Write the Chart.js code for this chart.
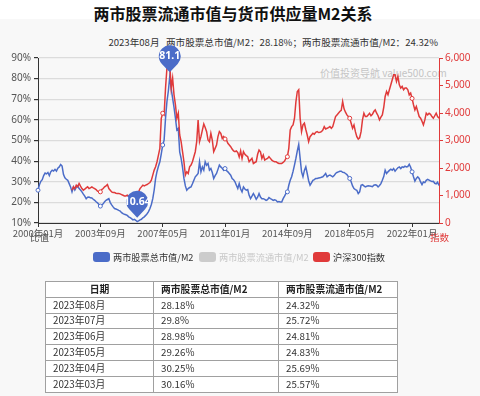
<!DOCTYPE html>
<html>
<head>
<meta charset="utf-8">
<script src="https://cdn.jsdelivr.net/npm/chart.js@4"></script>
<style>
  html, body { margin: 0; padding: 0; }
  body {
    width: 480px; height: 396px; position: relative; overflow: hidden;
    background: #ffffff;
    font-family: "Noto Sans CJK SC", "Noto Sans", sans-serif;
  }
  #panel { position: absolute; left: 0; top: 19px; width: 480px; height: 377px; background: #f8f8f8; }
  #title { position: absolute; left: 0; top: 1px; width: 466px; text-align: center; font-size: 16px; font-weight: bold; color: #111; }
  #subtitle { position: absolute; right: 42px; top: 35px; font-size: 9.6px; color: #333; white-space: pre; }
  #watermark { position: absolute; left: 320px; top: 65px; font-size: 10px; color: #c4c4c4; }
  canvas { position: absolute; left: 0; top: 0; }
  .axname { position: absolute; font-size: 9.5px; }
  .legend { position: absolute; top: 250px; font-size: 9.2px; color: #333; display: flex; align-items: center; white-space: nowrap; }
  .legend i { display: inline-block; width: 17px; height: 10px; border-radius: 3px; margin-right: 3px; }
  table { position: absolute; left: 45px; top: 281px; width: 353px; border-collapse: collapse; background: #fff; font-size: 9.8px; color: #333; }
  tr { height: 15.8px; }
  td, th { border: 1px solid #a0a0a0; padding: 0 7px; text-align: left; line-height: 13px; }
  th { font-weight: bold; color: #222; }
  th:first-child { text-align: center; }
</style>
</head>
<body>
<div id="panel"></div>
<div id="title">两市股票流通市值与货币供应量M2关系</div>
<div id="subtitle"></div>
<div id="watermark">价值投资导航 value500.com</div>
<canvas id="chart" width="480" height="396"></canvas>
<div class="axname" style="left:30px;top:230px;color:#555;">比值</div>
<div class="axname" style="left:430px;top:230px;color:#e03a3a;">指数</div>
<div class="legend" style="left:93px;"><i style="background:#4b6cc8"></i>两市股票总市值/M2</div>
<div class="legend" style="left:199px;color:#c8c8c8;"><i style="background:#cccccc"></i>两市股票流通市值/M2</div>
<div class="legend" style="left:313px;"><i style="background:#e03a3a"></i>沪深300指数</div>
<table id="tbl"></table>
<script>
// Monthly total market cap / M2 (%), 2000-01 .. 2023-08
const totalRatio = [
  25.9, 28.5, 30.2, 31.0, 33.0, 34.2, 33.8, 34.5, 33.0, 34.8, 35.6, 35.2,
  36.0, 35.2, 36.6, 37.2, 38.4, 37.6, 33.5, 31.9, 31.2, 30.7, 29.1, 27.5,
  25.1, 27.5, 26.0, 27.3, 28.0, 26.7, 26.0, 25.1, 24.0, 23.0, 21.8, 22.5,
  22.6, 22.2, 22.1, 21.5, 21.0, 20.3, 19.8, 19.0, 18.2, 18.8, 19.3, 20.3,
  21.0, 21.4, 21.8, 19.9, 18.8, 17.8, 17.0, 16.8, 16.5, 16.1, 15.8, 15.0,
  14.5, 14.2, 14.0, 13.7, 13.0, 12.6, 12.1, 11.5, 11.8, 11.3, 10.64, 11.0,
  11.5, 11.8, 12.5, 13.0, 13.7, 14.5, 15.5, 17.0, 19.0, 21.8, 26.0, 31.6,
  35.0, 37.5, 39.7, 43.5, 47.8, 50.2, 60.8, 68.9, 74.0, 81.1, 75.0, 70.5,
  66.0, 60.8, 55.1, 55.9, 44.5, 41.3, 37.0, 31.6, 28.0, 25.9, 26.7, 27.2,
  27.5, 29.0, 30.7, 32.4, 33.2, 34.0, 39.7, 34.8, 37.2, 35.6, 39.7, 38.0,
  38.9, 35.6, 36.4, 34.5, 31.6, 33.0, 34.0, 36.0, 38.1, 37.2, 36.5, 35.6,
  36.4, 35.5, 34.8, 34.0, 33.2, 31.6, 31.0, 30.0, 28.3, 26.7, 29.1, 26.5,
  25.1, 27.5, 26.5, 25.9, 26.2, 23.4, 21.8, 23.0, 24.3, 23.0, 21.5, 22.5,
  24.3, 22.6, 21.8, 21.8, 21.5, 21.0, 21.3, 22.3, 21.8, 21.5, 21.0, 21.2,
  21.0, 20.2, 20.4, 20.2, 20.2, 21.8, 23.0, 24.3, 25.1, 28.3, 30.7, 32.4,
  35.0, 38.1, 41.3, 45.0, 48.1, 41.3, 34.8, 32.4, 35.5, 37.2, 34.0, 30.5,
  28.3, 29.5, 30.7, 31.0, 31.6, 31.6, 31.8, 31.9, 32.2, 32.4, 33.2, 34.0,
  32.4, 33.0, 33.2, 32.8, 32.4, 33.0, 34.0, 34.5, 34.8, 35.1, 35.1, 34.6,
  34.5, 34.0, 33.5, 32.5, 31.6, 30.0, 28.0, 26.7, 26.2, 25.9, 24.3, 25.1,
  28.3, 28.6, 28.0, 27.5, 27.8, 28.0, 27.9, 27.8, 27.6, 28.3, 28.5, 28.3,
  27.5, 28.2, 29.1, 30.7, 32.5, 35.6, 34.0, 34.8, 35.5, 36.1, 35.6, 36.4,
  35.1, 36.0, 36.8, 37.2, 36.4, 37.2, 37.0, 37.6, 37.2, 37.4, 38.5, 37.0,
  34.8, 32.4, 30.3, 31.6, 32.4, 31.6, 29.9, 28.6, 29.9, 29.6, 30.7, 31.2,
  30.8, 30.4, 30.16, 30.25, 29.26, 28.98, 29.8, 28.18
];

// Monthly CSI 300 index, starts 2002-01
const hs300 = [
  null, null, null, null, null, null, null, null, null, null, null, null,
  null, null, null, null, null, null, null, null, null, null, null, null,
  1193, 1314, 1253, 1375, 1314, 1436, 1339, 1253, 1193, 1229, 1278, 1314,
  1253, 1278, 1314, 1278, 1253, 1217, 1156, 1132, 1132, 1217, 1253, 1314,
  1351, 1400, 1253, 1193, 1132, 1107, 1107, 1083, 1071, 1071, 1059, 1034,
  1010, 986, 986, 1010, 974, 937, 925, 949, 974, 986, 1034, 1132,
  1253, 1314, 1375, 1351, 1375, 1400, 1436, 1473, 1558, 1740, 1923, 2045,
  2227, 2470, 2714, 3809, 3992, 3931, 4905, 5635, 5696, 5757, 4905, 5270,
  4661, 4296, 3809, 3992, 3201, 2957, 2592, 2227, 1740, 1862, 1801, 2045,
  2105, 2227, 2410, 2592, 2957, 3748, 2957, 3140, 3380, 3600, 3470, 3320,
  3018, 2957, 3262, 3018, 2592, 2714, 2836, 3140, 3322, 3262, 3079, 3140,
  3055, 3018, 2897, 2836, 2775, 2690, 2617, 2592, 2620, 2560, 2400, 2620,
  2349, 2592, 2500, 2450, 2410, 2227, 2290, 2349, 2166, 2200, 2227, 2500,
  2653, 2592, 2349, 2470, 2288, 2320, 2349, 2410, 2350, 2288, 2250, 2227,
  2227, 2190, 2166, 2166, 2166, 2200, 2250, 2349, 2410, 2714, 3383, 3505,
  3566, 3800, 4400, 4783, 4844, 3809, 3322, 3566, 3627, 3400, 3201, 2957,
  3140, 3200, 3262, 3230, 3300, 3322, 3290, 3300, 3322, 3380, 3505, 3420,
  3444, 3470, 3505, 3444, 3505, 3688, 3870, 3931, 3992, 4053, 4100, 4418,
  4150, 4030, 3930, 3870, 3809, 3627, 3444, 3566, 3322, 3140, 3055, 3100,
  3322, 3748, 3992, 3870, 3870, 3930, 3992, 3900, 3950, 4053, 4113, 3992,
  3900, 3748, 3850, 3931, 4200, 4600, 4783, 4661, 4844, 5026, 5209, 5391,
  5391, 5148, 5330, 5026, 4905, 4965, 4844, 4905, 4905, 4844, 4661, 4722,
  4530, 4300, 4113, 4235, 4053, 3870, 3809, 3700, 3566, 3748, 3992, 3931,
  3992, 3950, 3870, 3809, 3900, 3992, 3870, 3809
];

// Table rows
const tableDates = ["2023年08月", "2023年07月", "2023年06月", "2023年05月", "2023年04月", "2023年03月"];
const tableTotal = ["28.18%", "29.8%", "28.98%", "29.26%", "30.25%", "30.16%"];
const tableFloat = ["24.32%", "25.72%", "24.81%", "24.83%", "25.69%", "25.57%"];

const BLUE = "#4b6cc8";
const RED = "#e03a3a";
const TICK_EVERY = 44;

// month labels 2000年01月 .. 2023年08月
const labels = [];
for (let y = 2000; y <= 2023; y++) {
  for (let m = 1; m <= 12; m++) {
    if (y === 2023 && m > 8) break;
    labels.push(y + "年" + String(m).padStart(2, "0") + "月");
  }
}

document.getElementById("subtitle").textContent =
  tableDates[0] + "   两市股票总市值/M2：" + tableTotal[0] + "；两市股票流通市值/M2：" + tableFloat[0];

// table
const tbl = document.getElementById("tbl");
tbl.innerHTML = "<tr><th style='width:93px'>日期</th><th style='width:110px'>两市股票总市值/M2</th><th>两市股票流通市值/M2</th></tr>" +
  tableDates.map((d, i) => `<tr><td>${d}</td><td>${tableTotal[i]}</td><td>${tableFloat[i]}</td></tr>`).join("");

// pin markers at max / min of the ratio series
const pinPlugin = {
  id: "pins",
  afterDatasetsDraw(chart) {
    const ctx = chart.ctx;
    const xs = chart.scales.x, ys = chart.scales.y;
    let iMax = 0, iMin = 0;
    totalRatio.forEach((v, i) => {
      if (v > totalRatio[iMax]) iMax = i;
      if (v < totalRatio[iMin]) iMin = i;
    });
    [iMax, iMin].forEach((i) => {
      const tx = xs.getPixelForValue(i);
      const ty = ys.getPixelForValue(totalRatio[i]) - 4;
      const r = 11, cy = ty - 16;
      ctx.save();
      ctx.beginPath();
      ctx.moveTo(tx, ty);
      ctx.arc(tx, cy, r, Math.PI * 0.5 + 0.8, Math.PI * 0.5 - 0.8);
      ctx.closePath();
      ctx.fillStyle = BLUE;
      ctx.fill();
      ctx.fillStyle = "#fff";
      ctx.font = "bold 10.5px 'Noto Sans', sans-serif";
      ctx.textAlign = "center";
      ctx.textBaseline = "middle";
      ctx.fillText(String(totalRatio[i]), tx, cy);
      ctx.restore();
    });
  },
};

const pointSize = (ctx) => (ctx.dataIndex % TICK_EVERY === 0 ? 2 : 0);

new Chart(document.getElementById("chart"), {
  type: "line",
  data: {
    labels: labels,
    datasets: [
      {
        label: "沪深300指数",
        data: hs300,
        yAxisID: "y1",
        borderColor: RED,
        borderWidth: 1.5,
        pointRadius: pointSize,
        pointBackgroundColor: "#fff",
        pointBorderColor: RED,
        pointBorderWidth: 1,
        tension: 0,
        order: 0,
      },
      {
        label: "两市股票总市值/M2",
        data: totalRatio,
        yAxisID: "y",
        borderColor: BLUE,
        borderWidth: 1.5,
        pointRadius: pointSize,
        pointBackgroundColor: "#fff",
        pointBorderColor: BLUE,
        pointBorderWidth: 1,
        tension: 0,
        order: 1,
      },
    ],
  },
  options: {
    responsive: false,
    animation: false,
    devicePixelRatio: 1,
    layout: { padding: { top: 58, bottom: 153, left: 0, right: 0 } },
    plugins: { legend: { display: false }, tooltip: { enabled: false } },
    scales: {
      x: {
        offset: false,
        afterFit: (s) => { s.height = 20; },
        border: { display: true, color: "#333", width: 1 },
        grid: {
          drawOnChartArea: false,
          drawTicks: true,
          tickLength: 4,
          tickColor: (c) => (c.index % TICK_EVERY === 0 ? "#333" : "rgba(0,0,0,0)"),
        },
        ticks: {
          autoSkip: false,
          maxRotation: 0,
          padding: 1,
          color: "#555",
          font: { size: 9.5, family: "'Noto Sans CJK SC', sans-serif" },
          callback: function (v, i) { return i % TICK_EVERY === 0 ? this.getLabelForValue(v) : ""; },
        },
      },
      y: {
        position: "left",
        min: 10,
        max: 90,
        afterFit: (s) => { s.width = 38; },
        border: { display: true, color: "#333", width: 1 },
        grid: { color: "#dcdcdc", lineWidth: 1.2, tickLength: 4, tickColor: "#333" },
        ticks: {
          stepSize: 10,
          padding: 3,
          color: "#555",
          font: { size: 10, family: "'Noto Sans', sans-serif" },
          callback: (v) => v + "%",
        },
      },
      y1: {
        position: "right",
        min: 0,
        max: 6000,
        afterFit: (s) => { s.width = 41; },
        border: { display: true, color: RED, width: 1 },
        grid: { drawOnChartArea: false, tickLength: 4, tickColor: RED },
        ticks: {
          stepSize: 1000,
          padding: 2,
          color: RED,
          font: { size: 10, family: "'Noto Sans', sans-serif" },
          callback: (v) => v.toLocaleString("en-US"),
        },
      },
    },
  },
  plugins: [pinPlugin],
});
</script>
</body>
</html>
